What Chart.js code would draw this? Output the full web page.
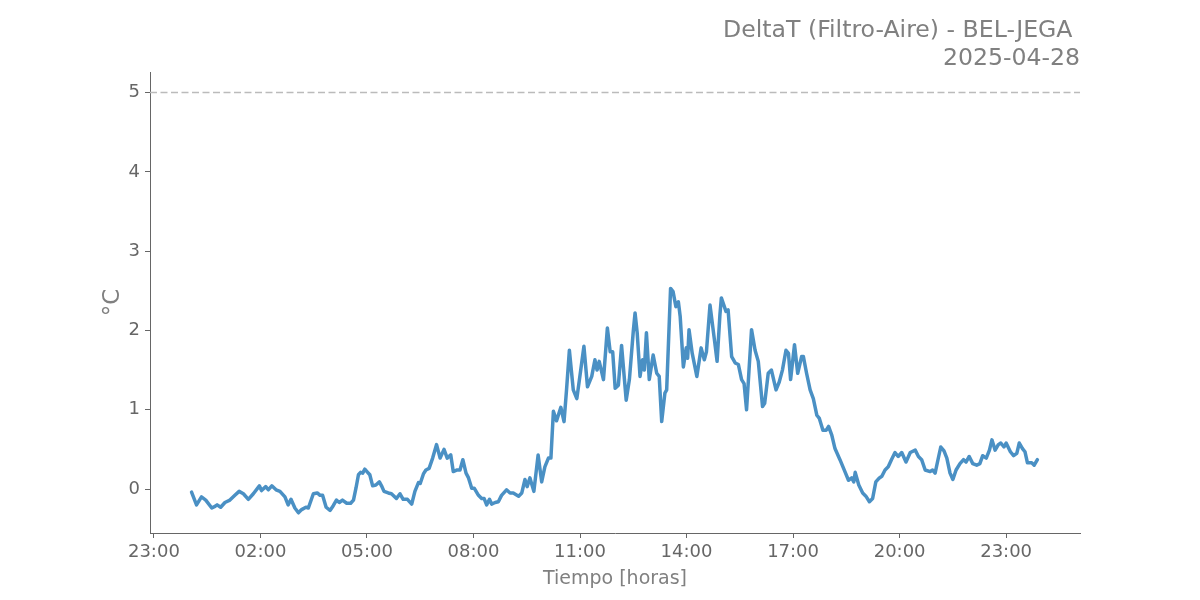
<!DOCTYPE html>
<html>
<head>
<meta charset="utf-8">
<script src="https://cdn.jsdelivr.net/npm/chart.js@4/dist/chart.umd.min.js"></script>
<style>
  html, body { margin: 0; padding: 0; background: #fff; }
  #wrap { width: 1200px; height: 600px; }
</style>
</head>
<body>
<div id="wrap"><canvas id="chart" width="1200" height="600"></canvas></div>
<script>
// hours since 00:00 of 2025-04-28
const hours = [
  0.06, 0.20, 0.34, 0.46, 0.63, 0.72, 0.78, 0.88, 1.00, 1.14, 1.28, 1.40, 1.52, 1.66, 1.80, 1.97,
  2.03, 2.15, 2.22, 2.32, 2.44, 2.55, 2.69, 2.78, 2.86, 2.97, 3.07, 3.16, 3.28, 3.35, 3.49, 3.60,
  3.68, 3.75, 3.85, 3.96, 4.05, 4.14, 4.22, 4.31, 4.43, 4.54, 4.62, 4.69, 4.76, 4.82, 4.88, 4.94,
  5.00, 5.08, 5.16, 5.25, 5.35, 5.41, 5.48, 5.60, 5.69, 5.83, 5.93, 6.02, 6.14, 6.26, 6.35, 6.45,
  6.50, 6.59, 6.66, 6.75, 6.85, 6.96, 7.06, 7.17, 7.26, 7.36, 7.43, 7.54, 7.62, 7.70, 7.79, 7.86,
  7.95, 8.02, 8.14, 8.23, 8.30, 8.37, 8.45, 8.51, 8.61, 8.70, 8.79, 8.93, 9.03, 9.12, 9.27, 9.36,
  9.45, 9.51, 9.59, 9.70, 9.82, 9.92, 10.01, 10.11, 10.18, 10.25, 10.34, 10.46, 10.55, 10.62, 10.70, 10.81,
  10.91, 11.02, 11.11, 11.21, 11.33, 11.42, 11.48, 11.54, 11.66, 11.77, 11.85, 11.92, 11.99, 12.08, 12.17, 12.30,
  12.39, 12.50, 12.55, 12.61, 12.69, 12.76, 12.81, 12.87, 12.95, 13.06, 13.16, 13.23, 13.30, 13.39, 13.44, 13.55,
  13.62, 13.70, 13.77, 13.82, 13.91, 13.99, 14.03, 14.07, 14.16, 14.29, 14.41, 14.50, 14.56, 14.66, 14.78, 14.86,
  14.94, 14.98, 15.05, 15.11, 15.17, 15.27, 15.37, 15.46, 15.55, 15.62, 15.69, 15.83, 15.93, 16.02, 16.14, 16.20,
  16.30, 16.39, 16.52, 16.61, 16.70, 16.80, 16.87, 16.93, 17.04, 17.13, 17.24, 17.29, 17.38, 17.48, 17.57, 17.67,
  17.74, 17.84, 17.93, 18.00, 18.09, 18.18, 18.32, 18.46, 18.56, 18.65, 18.71, 18.75, 18.85, 18.96, 19.05, 19.15,
  19.24, 19.33, 19.43, 19.50, 19.59, 19.68, 19.77, 19.87, 19.96, 20.06, 20.18, 20.30, 20.44, 20.53, 20.62, 20.72,
  20.86, 20.93, 21.00, 21.10, 21.16, 21.25, 21.33, 21.42, 21.50, 21.59, 21.70, 21.80, 21.87, 21.96, 22.06, 22.17,
  22.26, 22.34, 22.44, 22.53, 22.60, 22.69, 22.78, 22.85, 22.94, 23.00, 23.12, 23.21, 23.30, 23.37, 23.46, 23.53,
  23.60, 23.72, 23.79, 23.88
];
const deltaT = [
  -0.04, -0.20, -0.10, -0.14, -0.24, -0.22, -0.20, -0.23, -0.17, -0.14, -0.08, -0.03, -0.06, -0.13, -0.06, 0.04,
  -0.02, 0.03, -0.01, 0.04, -0.01, -0.03, -0.10, -0.20, -0.13, -0.24, -0.30, -0.26, -0.23, -0.24, -0.06, -0.05,
  -0.08, -0.08, -0.23, -0.27, -0.21, -0.14, -0.17, -0.14, -0.18, -0.18, -0.14, 0.01, 0.18, 0.21, 0.20, 0.25,
  0.22, 0.18, 0.04, 0.05, 0.09, 0.04, -0.03, -0.05, -0.06, -0.12, -0.06, -0.13, -0.13, -0.19, -0.03, 0.08,
  0.07, 0.19, 0.24, 0.26, 0.39, 0.56, 0.39, 0.50, 0.39, 0.43, 0.22, 0.24, 0.24, 0.37, 0.20, 0.14,
  0.01, 0.01, -0.08, -0.12, -0.12, -0.20, -0.13, -0.19, -0.17, -0.16, -0.08, -0.01, -0.05, -0.05, -0.09, -0.05,
  0.12, 0.03, 0.14, -0.03, 0.43, 0.09, 0.28, 0.39, 0.39, 0.98, 0.86, 1.03, 0.85, 1.25, 1.75, 1.25,
  1.14, 1.50, 1.80, 1.29, 1.42, 1.63, 1.50, 1.61, 1.38, 2.03, 1.73, 1.73, 1.27, 1.31, 1.81, 1.12,
  1.38, 1.99, 2.22, 1.97, 1.42, 1.63, 1.50, 1.97, 1.38, 1.69, 1.46, 1.42, 0.85, 1.21, 1.25, 2.53,
  2.49, 2.30, 2.36, 2.18, 1.54, 1.78, 1.65, 2.01, 1.71, 1.42, 1.78, 1.63, 1.73, 2.32, 1.90, 1.61,
  2.20, 2.41, 2.32, 2.24, 2.26, 1.67, 1.59, 1.57, 1.38, 1.33, 1.00, 2.01, 1.75, 1.61, 1.04, 1.08,
  1.46, 1.50, 1.25, 1.35, 1.50, 1.75, 1.71, 1.38, 1.82, 1.46, 1.67, 1.67, 1.46, 1.25, 1.14, 0.93,
  0.89, 0.74, 0.74, 0.79, 0.68, 0.51, 0.37, 0.22, 0.11, 0.14, 0.09, 0.21, 0.05, -0.05, -0.09, -0.16,
  -0.12, 0.09, 0.14, 0.16, 0.24, 0.28, 0.37, 0.46, 0.41, 0.46, 0.34, 0.46, 0.49, 0.41, 0.37, 0.24,
  0.22, 0.24, 0.20, 0.41, 0.53, 0.48, 0.39, 0.20, 0.12, 0.24, 0.32, 0.37, 0.34, 0.41, 0.32, 0.30,
  0.32, 0.42, 0.39, 0.49, 0.62, 0.49, 0.56, 0.58, 0.53, 0.58, 0.47, 0.42, 0.45, 0.58, 0.51, 0.47,
  0.33, 0.33, 0.30, 0.37
];
const xTickValues = [-1, 2, 5, 8, 11, 14, 17, 20, 23];
const xTickLabels = ["23:00", "02:00", "05:00", "08:00", "11:00", "14:00", "17:00", "20:00", "23:00"];
const yTickValues = [0, 1, 2, 3, 4, 5];
const threshold = 5;
const xMin = -1.11, xMax = 25.08;
const yMin = -0.555, yMax = 5.26;

const titleLines = ["DeltaT (Filtro-Aire) - BEL-JEGA ", "2025-04-28"];
const font = "'DejaVu Sans', sans-serif";

// titles drawn by hand so they sit where matplotlib put them
const textPlugin = {
  id: "texts",
  afterDraw(chart) {
    const ctx = chart.ctx;
    const area = chart.chartArea;
    ctx.save();
    ctx.fillStyle = "#808080";
    ctx.textAlign = "right";
    ctx.textBaseline = "alphabetic";
    ctx.font = "23.6px " + font;
    ctx.fillText(titleLines[0], area.right, 37);
    ctx.fillText(titleLines[1], area.right, 65);

    ctx.textAlign = "center";
    ctx.font = "19px " + font;
    ctx.fillText("Tiempo [horas]", (area.left + area.right) / 2, 584);

    ctx.translate(119, (area.top + area.bottom) / 2);
    ctx.rotate(-Math.PI / 2);
    ctx.font = "23px " + font;
    ctx.fillText("°C", 0, 0);
    ctx.restore();
  }
};

const points = hours.map((h, i) => ({ x: h, y: deltaT[i] }));

new Chart(document.getElementById("chart"), {
  type: "line",
  data: {
    datasets: [
      {
        data: points,
        borderColor: "rgb(74, 144, 196)",
        borderWidth: 3.5,
        pointRadius: 0,
        tension: 0,
        borderJoinStyle: "round",
        borderCapStyle: "round",
      },
      {
        data: [{ x: xMin, y: threshold }, { x: xMax, y: threshold }],
        borderColor: "#bbbbbb",
        borderWidth: 1.5,
        borderDash: [7, 3.5],
        pointRadius: 0,
      },
    ],
  },
  options: {
    responsive: false,
    animation: false,
    layout: { padding: { top: 72, right: 120, left: 0, bottom: 0 } },
    plugins: {
      legend: { display: false },
      tooltip: { enabled: false },
    },
    scales: {
      x: {
        type: "linear",
        min: xMin,
        max: xMax,
        afterBuildTicks: (scale) => {
          scale.ticks = xTickValues.map((v) => ({ value: v }));
        },
        afterFit: (scale) => { scale.height = 67; },
        ticks: {
          autoSkip: false,
          maxRotation: 0,
          padding: 4,
          color: "#666666",
          font: { family: font, size: 18 },
          callback: (v) => xTickLabels[xTickValues.indexOf(v)],
        },
        grid: { drawOnChartArea: false, drawTicks: true, tickLength: 5, color: "#666666" },
        border: { display: true, color: "#666666", width: 1 },
      },
      y: {
        min: yMin,
        max: yMax,
        afterBuildTicks: (scale) => {
          scale.ticks = yTickValues.map((v) => ({ value: v }));
        },
        afterFit: (scale) => { scale.width = 150; },
        ticks: {
          padding: 5,
          color: "#666666",
          font: { family: font, size: 18 },
        },
        grid: { drawOnChartArea: false, drawTicks: true, tickLength: 5, color: "#666666" },
        border: { display: true, color: "#666666", width: 1 },
      },
    },
  },
  plugins: [textPlugin],
});
</script>
</body>
</html>
